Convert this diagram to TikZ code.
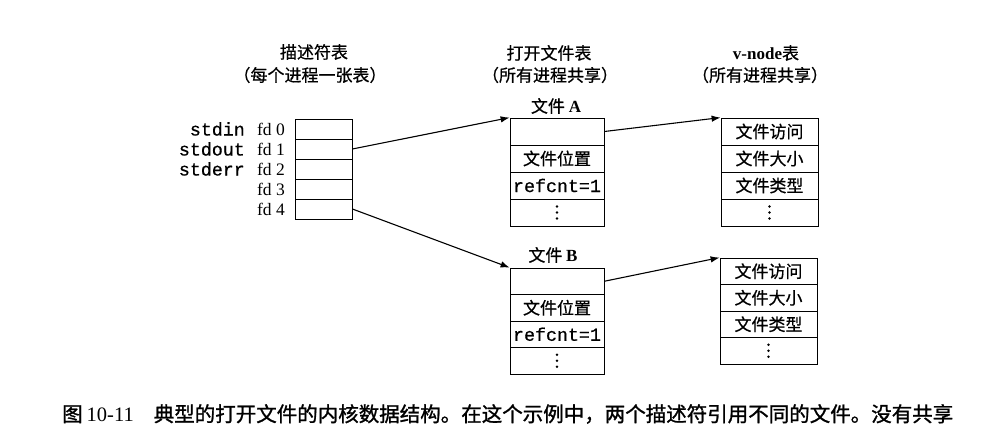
\documentclass[tikz,border=0pt]{standalone}
\usepackage{fontspec}
\setmainfont{Liberation Serif}
\setmonofont[FakeBold=0.6]{Liberation Mono}
\newfontfamily\cjk[FakeBold=0.6]{Noto Sans CJK SC}
\newfontfamily\cjkcap[FakeBold=1.2]{Noto Sans CJK SC}
\usetikzlibrary{arrows.meta}
\newcommand\dfont{\fontsize{17}{20}\selectfont}
\newcommand\capfont{\fontsize{20.5}{24}\selectfont}
\begin{document}
\begin{tikzpicture}[x=1pt,y=-1pt,
  box/.style={draw, line width=0.8pt, inner sep=0pt, font=\cjk\dfont},
  dcell/.style={box, minimum width=57pt, minimum height=20pt},
  fcell/.style={box, minimum width=94pt, minimum height=27pt},
  fcellb/.style={box, minimum width=94pt, minimum height=26.5pt},
  vcell/.style={box, minimum width=97pt, minimum height=27pt},
  vcellb/.style={box, minimum width=97pt, minimum height=26.5pt},
  dots/.style={path picture={
     \fill (path picture bounding box.center) ++(0,-6) circle (1.3pt)
           (path picture bounding box.center) circle (1.3pt)
           (path picture bounding box.center) ++(0,6) circle (1.3pt);}},
  mono/.style={font=\ttfamily\fontsize{18.3}{20}\selectfont},
  lbl/.style={inner sep=0pt, font=\fontsize{17.5}{20}\selectfont},
  head/.style={inner sep=0pt, font=\cjk\dfont},
  arr/.style={line width=1.1pt, -{Latex[length=9pt,width=6.5pt]}}]
\useasboundingbox (0,0) rectangle (1002,435);
\fill[white] (0,0) rectangle (1002,435);

% headings
\node[head] (h1) at (314,52) {描述符表};
\node[head] (h1b) at (310,75) {（每个进程一张表）};
\node[head] (h2) at (549,53) {打开文件表};
\node[head] (h2b) at (550,75) {（所有进程共享）};
\node[head] (h3) at (766,53) {{\rmfamily\bfseries v-node}表};
\node[head] (h3b) at (760,75) {（所有进程共享）};

% descriptor table
\node[dcell] (d0) at (323.5,129) {};
\node[dcell] (d1) at (323.5,149) {};
\node[dcell] (d2) at (323.5,169) {};
\node[dcell] (d3) at (323.5,189) {};
\node[dcell] (d4) at (323.5,209) {};

\node[lbl, anchor=east] (f0) at (285,129) {fd 0};
\node[lbl, anchor=east] (f1) at (285,149) {fd 1};
\node[lbl, anchor=east] (f2) at (285,169) {fd 2};
\node[lbl, anchor=east] (f3) at (285,189) {fd 3};
\node[lbl, anchor=east] (f4) at (285,209) {fd 4};
\node[lbl, mono, anchor=east] (s0) at (245,129) {stdin};
\node[lbl, mono, anchor=east] (s1) at (245,149) {stdout};
\node[lbl, mono, anchor=east] (s2) at (245,169) {stderr};

% file A
\node[head] (ta) at (556,106) {文件 {\rmfamily\bfseries A}};
\node[fcell] (fa0) at (557,131.5) {};
\node[fcell] (fa1) at (557,158.5) {文件位置};
\node[fcell, mono] (fa2) at (557,185.5) {refcnt=1};
\node[fcell, dots] (fa3) at (557,212.5) {};

% file B
\node[head] (tb) at (553,255) {文件 {\rmfamily\bfseries B}};
\node[fcellb] (fb0) at (557,281.25) {};
\node[fcellb] (fb1) at (557,307.75) {文件位置};
\node[fcellb, mono] (fb2) at (557,334.25) {refcnt=1};
\node[fcellb, dots] (fb3) at (557,360.75) {};

% v-node A
\node[vcell] (va0) at (769.5,131.5) {文件访问};
\node[vcell] (va1) at (769.5,158.5) {文件大小};
\node[vcell] (va2) at (769.5,185.5) {文件类型};
\node[vcell, dots] (va3) at (769.5,212.5) {};

% v-node B
\node[vcellb] (vb0) at (768.5,271.25) {文件访问};
\node[vcellb] (vb1) at (768.5,297.75) {文件大小};
\node[vcellb] (vb2) at (768.5,324.25) {文件类型};
\node[vcellb, dots] (vb3) at (768.5,350.75) {};

% arrows
\draw[arr] (d1.east) -- (fa0.north west);
\draw[arr] (d4.east) -- (fb0.north west);
\draw[arr] (fa0.east) -- (va0.north west);
\draw[arr] (fb0.east) -- (vb0.north west);

% caption
\node[inner sep=0pt, anchor=west, font=\cjkcap\capfont] (cap) at (62,414)
  {图\hspace{4pt}{\rmfamily 10-11}\hspace{20pt}典型的打开文件的内核数据结构。在这个示例中，两个描述符引用不同的文件。没有共享};
\end{tikzpicture}
\end{document}
